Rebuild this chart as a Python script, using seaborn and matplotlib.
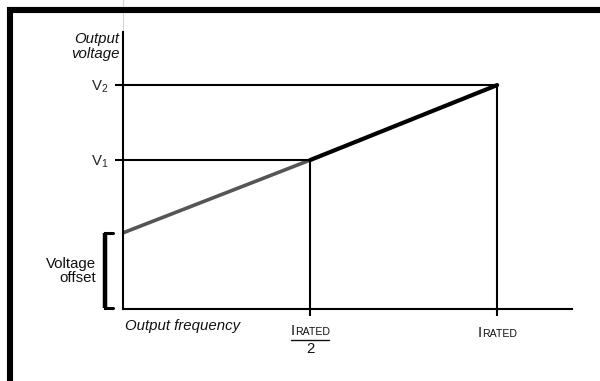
import matplotlib
matplotlib.use("Agg")
import matplotlib.pyplot as plt
import seaborn as sns
from matplotlib.lines import Line2D
from matplotlib.offsetbox import TextArea, HPacker, VPacker, DrawingArea, AnnotationBbox

# V/f characteristic: frequency as fraction of rated, voltage as fraction of V2
freq = [0.0, 0.5, 1.0]
volt = [0.34, 0.665, 1.0]
v_labels = ["V_1", "V_2"]
x_label = "Output frequency"
y_label = "Output\nvoltage"
offset_label = "Voltage\noffset"

sns.set_theme(style="white")
plt.rcParams["font.family"] = ["Liberation Sans", "DejaVu Sans"]
plt.rcParams["mathtext.fontset"] = "custom"
plt.rcParams["mathtext.rm"] = "Liberation Sans"
plt.rcParams["mathtext.it"] = "Liberation Sans:italic"

FS = 10.8
W, H = 600, 381
fig = plt.figure(figsize=(W / 100, H / 100), dpi=100)
fig.patch.set_facecolor("white")

# axes box in pixel terms
x0, x1, y0, y1 = 123, 572, 32, 309
ax = fig.add_axes([x0 / W, (H - y1) / H, (x1 - x0) / W, (y1 - y0) / H])
ax.set_facecolor("white")
ax.set_xlim(0, 1.2)
ax.set_ylim(0, 1.237)
for s in ("top", "right"):
    ax.spines[s].set_visible(False)
for s in ("left", "bottom"):
    ax.spines[s].set_color("black")
    ax.spines[s].set_linewidth(1.5)

# characteristic line: boosted region in grey, linear region in black
sns.lineplot(x=freq[:2], y=volt[:2], ax=ax, color="#555555", linewidth=2.6,
             solid_capstyle="butt", clip_on=False)
sns.lineplot(x=freq[1:], y=volt[1:], ax=ax, color="black", linewidth=3.0,
             solid_capstyle="round", clip_on=False)

# guide lines to the axes
ax.hlines([volt[1]], 0, freq[1], color="black", lw=1.5)
ax.hlines([volt[2]], 0, freq[2], color="black", lw=1.5)
ax.vlines([freq[1]], 0, volt[1], color="black", lw=1.5)
ax.vlines([freq[2]], 0, volt[2], color="black", lw=1.5)

# ticks
ax.set_yticks(volt[1:])
ax.set_yticklabels([rf"$\mathregular{{{v}}}$" for v in v_labels], fontsize=FS)
ax.tick_params(axis="y", direction="out", length=5.8, width=1.5, color="black",
               pad=4.5, left=True)
ax.set_xticks(freq[1:])
ax.set_xticklabels(["", ""])
ax.tick_params(axis="x", direction="out", length=5.0, width=1.5, color="black",
               bottom=True)
ax.grid(False)

# axis captions
ax.annotate(y_label, xy=(0, 1), xycoords="axes fraction", xytext=(-2.5, 0),
            textcoords="offset points", ha="right", va="top", fontsize=FS,
            style="italic", linespacing=1.05, color="#111111")
ax.annotate(x_label, xy=(0, 0), xycoords="axes fraction", xytext=(1.5, -7.5),
            textcoords="offset points", ha="left", va="top", fontsize=FS,
            style="italic", color="#111111")

# voltage offset bracket
ax.plot([-0.028, -0.048, -0.048, -0.028], [volt[0], volt[0], 0.003, 0.003],
        color="black", lw=2.2, solid_joinstyle="miter", clip_on=False)
ax.plot([-0.048, -0.048], [0.003, volt[0]], color="black", lw=3.2,
        solid_capstyle="butt", clip_on=False)
ax.annotate(offset_label, xy=(0, volt[0] / 2), xycoords=("axes fraction", "data"),
            xytext=(-19.5, 0), textcoords="offset points", ha="right", va="center",
            fontsize=FS, linespacing=1.05, multialignment="right", color="#111111")


def rated_label(size_i, size_rest):
    return HPacker(children=[
        TextArea("I", textprops=dict(fontsize=size_i, color="#111111")),
        TextArea("RATED", textprops=dict(fontsize=size_rest, color="#111111")),
    ], align="baseline", pad=0, sep=0)


# rated frequency label
ab = AnnotationBbox(rated_label(10.5, 7.6), (freq[2], 0),
                    xycoords=("data", "axes fraction"), xybox=(0, -17),
                    boxcoords="offset points", frameon=False,
                    box_alignment=(0.5, 0.5), annotation_clip=False)
ax.add_artist(ab)

# half rated frequency as a fraction
bar = DrawingArea(27, 2, 0, 0)
bar.add_artist(Line2D([0, 27], [1, 1], color="#111111", lw=1.0))
frac = VPacker(children=[
    rated_label(10.5, 7.6),
    bar,
    TextArea("2", textprops=dict(fontsize=FS, color="#111111")),
], align="center", pad=0, sep=0.3)
ab2 = AnnotationBbox(frac, (freq[1], 0), xycoords=("data", "axes fraction"),
                     xybox=(0, -22.5), boxcoords="offset points", frameon=False,
                     box_alignment=(0.5, 0.5), annotation_clip=False)
ax.add_artist(ab2)

# page frame and faint rule above the vertical axis
fig.add_artist(Line2D([10 / W, 10 / W, 1.01], [-0.01, (H - 10) / H, (H - 10) / H],
                      color="black", lw=4.4, solid_joinstyle="miter",
                      transform=fig.transFigure))
fig.add_artist(Line2D([x0 / W, x0 / W], [1.0, (H - y0) / H], color="#d4d4d4",
                      lw=0.8, transform=fig.transFigure, zorder=0))

fig.savefig("out.png", dpi=100, facecolor="white")
